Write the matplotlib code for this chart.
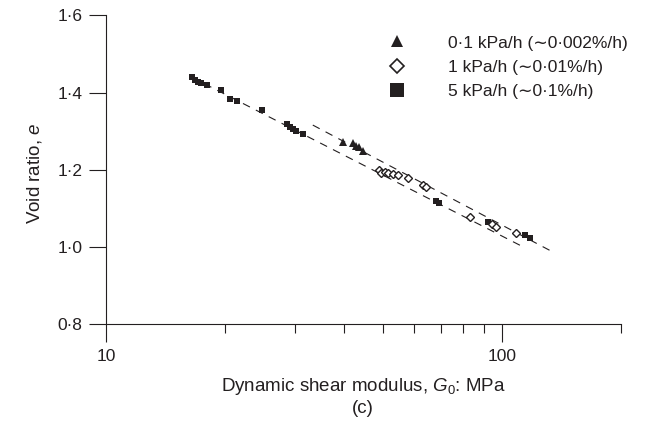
import numpy as np
import matplotlib
matplotlib.use("Agg")
import matplotlib.pyplot as plt
from matplotlib.ticker import FixedLocator, FuncFormatter, NullFormatter
from matplotlib.lines import Line2D

plt.rcParams['font.family'] = ['Liberation Sans', 'DejaVu Sans']
plt.rcParams['mathtext.fontset'] = 'custom'
plt.rcParams['mathtext.rm'] = 'Liberation Sans'
plt.rcParams['mathtext.it'] = 'Liberation Sans:italic'

ink = '#231f20'

# 0.1 kPa/h
g_tri = [39.7, 42.1, 42.9, 43.6, 44.5]
e_tri = [1.273, 1.269, 1.263, 1.260, 1.248]

# 1 kPa/h
g_dia = [48.9, 49.4, 50.6, 51.6, 53.1, 54.7, 57.9, 63.2, 64.2, 82.9, 94.7, 96.8, 108.7]
e_dia = [1.200, 1.193, 1.195, 1.191, 1.189, 1.187, 1.180, 1.160, 1.155, 1.079, 1.060, 1.053, 1.038]

# 5 kPa/h
g_sq = [16.45, 16.78, 17.10, 17.34, 17.95, 19.47, 20.55, 21.49, 24.8, 28.58, 29.13, 29.69,
        30.28, 31.47, 68.3, 69.2, 92.2, 114.1, 117.5]
e_sq = [1.440, 1.433, 1.427, 1.424, 1.419, 1.406, 1.383, 1.378, 1.355, 1.319, 1.312, 1.306,
        1.301, 1.293, 1.120, 1.114, 1.065, 1.032, 1.024]

# bounding trend lines (end points)
lower_g = [16.45, 112.1]
lower_e = [1.440, 1.003]
upper_g = [33.3, 134.3]
upper_e = [1.316, 0.988]

labels = ['0·1 kPa/h (∼0·002%/h)', '1 kPa/h (∼0·01%/h)', '5 kPa/h (∼0·1%/h)']

fig = plt.figure(figsize=(6.47, 4.23), dpi=100)
ax = fig.add_axes([0.1638, 0.2329, 0.796, 0.7309])

ax.plot(lower_g, lower_e, color=ink, lw=0.8, dashes=(7, 6))
ax.plot(upper_g, upper_e, color=ink, lw=0.8, dashes=(7, 6))

ax.plot(g_sq, e_sq, 's', color=ink, ms=5, mew=0, ls='none')
ax.plot(g_tri, e_tri, '^', color=ink, ms=5.5, mew=0, ls='none')
ax.plot(g_dia, e_dia, 'D', mfc='white', mec=ink, ms=4.2, mew=1, ls='none')

ax.set_xscale('log')
ax.set_xlim(10, 200)
ax.set_ylim(0.8, 1.6)

ax.xaxis.set_major_locator(FixedLocator([10, 100]))
ax.xaxis.set_minor_locator(FixedLocator([20, 30, 40, 50, 60, 70, 80, 90, 200]))
ax.xaxis.set_major_formatter(FuncFormatter(lambda v, p: '%d' % v))
ax.xaxis.set_minor_formatter(NullFormatter())
ax.yaxis.set_major_locator(FixedLocator([0.8, 1.0, 1.2, 1.4, 1.6]))
ax.yaxis.set_major_formatter(FuncFormatter(lambda v, p: ('%.1f' % v).replace('.', '·')))

ax.tick_params(axis='x', which='major', direction='out', length=13, width=0.8, color=ink,
               labelsize=12.5, pad=5, labelcolor=ink)
ax.tick_params(axis='x', which='minor', direction='out', length=6.5, width=0.8, color=ink)
ax.tick_params(axis='y', direction='out', length=12, width=0.8, color=ink,
               labelsize=12.5, pad=5, labelcolor=ink)

for s in ['top', 'right']:
    ax.spines[s].set_visible(False)
for s in ['left', 'bottom']:
    ax.spines[s].set_linewidth(0.8)
    ax.spines[s].set_color(ink)

ax.set_xlabel('Dynamic shear modulus, $G_0$: MPa', fontsize=13.5, color=ink, va='center')
ax.xaxis.set_label_coords(0.5, -0.2)
ax.set_ylabel('Void ratio, $e$', fontsize=13.5, color=ink, va='center')
ax.yaxis.set_label_coords(-0.138, 0.49)
fig.text(0.5615, 0.035, '(c)', fontsize=13.5, color=ink, ha='center', va='center')

handles = [
    Line2D([], [], marker='^', color=ink, ls='none', ms=8.5, mew=0),
    Line2D([], [], marker='D', mfc='white', mec=ink, ls='none', ms=7, mew=1.2),
    Line2D([], [], marker='s', color=ink, ls='none', ms=10, mew=0),
]
ax.legend(handles, labels, loc='upper left', bbox_to_anchor=(0.548, 0.935), frameon=False,
          fontsize=12.5, handlelength=1.0, handletextpad=2.43, labelspacing=0.52,
          borderpad=0, borderaxespad=0, labelcolor=ink)

fig.savefig('out.png', dpi=100)
